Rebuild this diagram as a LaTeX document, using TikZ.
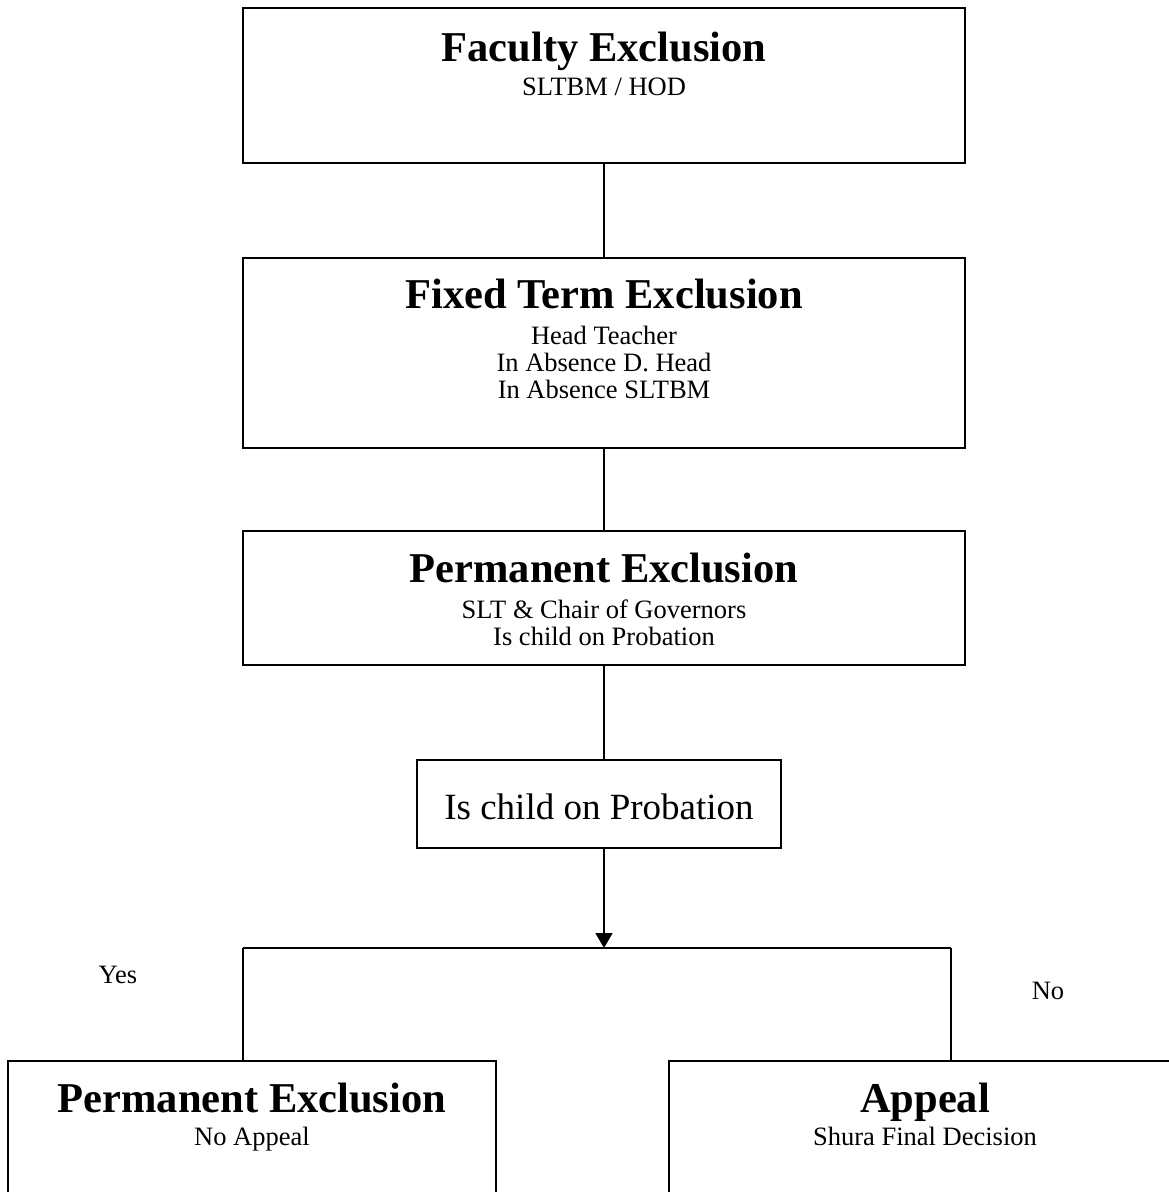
\documentclass[tikz,border=0pt]{standalone}
\usepackage{fontspec}
\setmainfont{Liberation Serif}
\usetikzlibrary{arrows.meta}
\begin{document}
\begin{tikzpicture}[x=1pt,y=-1pt,line width=1.6pt,
        boxnode/.style={draw,rectangle,inner sep=0},
        headtxt/.style={anchor=base,inner sep=0,font=\fontsize{42.5}{48}\selectfont\bfseries},
        subtxt/.style={anchor=base,inner sep=0,font=\fontsize{26.5}{30}\selectfont},
        asktxt/.style={anchor=base,inner sep=0,font=\fontsize{37}{42}\selectfont},
        ]
        \clip (0,0) rectangle (1169,1192);

        % boxes
        \node[boxnode,minimum width=722,minimum height=155] (fac) at (604,85.5) {};
        \node[boxnode,minimum width=722,minimum height=190] (fix) at (604,353) {};
        \node[boxnode,minimum width=722,minimum height=134] (perm) at (604,598) {};
        \node[boxnode,minimum width=364,minimum height=88] (prob) at (599,804) {};
        \node[boxnode,minimum width=488,minimum height=189] (permno) at (252,1155.5) {};
        \node[boxnode,minimum width=512,minimum height=189] (appeal) at (925,1155.5) {};

        % texts
        \node[headtxt] (facH) at (604,61) {Faculty Exclusion};
        \node[subtxt] (facS) at (604,95) {SLTBM / HOD};
        \node[headtxt] (fixH) at (604,308) {Fixed Term Exclusion};
        \node[subtxt] (fixS1) at (604,344) {Head Teacher};
        \node[subtxt] (fixS2) at (604,371) {In Absence D. Head};
        \node[subtxt] (fixS3) at (604,398) {In Absence SLTBM};
        \node[headtxt] (permH) at (604,582) {Permanent Exclusion};
        \node[subtxt] (permS1) at (604,618) {SLT \& Chair of Governors};
        \node[subtxt] (permS2) at (604,645) {Is child on Probation};
        \node[asktxt] (probT) at (599,819) {Is child on Probation};
        \node[headtxt] (permnoH) at (252,1112) {Permanent Exclusion};
        \node[subtxt] (permnoS) at (252,1145) {No Appeal};
        \node[headtxt] (appealH) at (925,1112) {Appeal};
        \node[subtxt] (appealS) at (925,1145) {Shura Final Decision};
        \node[subtxt] (yes) at (118,983) {Yes};
        \node[subtxt] (no) at (1048,999) {No};

        % connectors
        \coordinate (split) at (604,948);
        \coordinate (sl) at (243,948);
        \coordinate (sr) at (951,948);
        \draw (fac) -- (fix);
        \draw (fix) -- (perm);
        \draw (perm.south) -- (perm.south |- prob.north);
        \draw[-{Triangle[width=17pt,length=15pt]}] (split |- prob.south) -- (split);
        \draw (sl) -- (sr);
        \draw (sl) -- (sl |- permno.north);
        \draw (sr) -- (sr |- appeal.north);
\end{tikzpicture}
\end{document}
